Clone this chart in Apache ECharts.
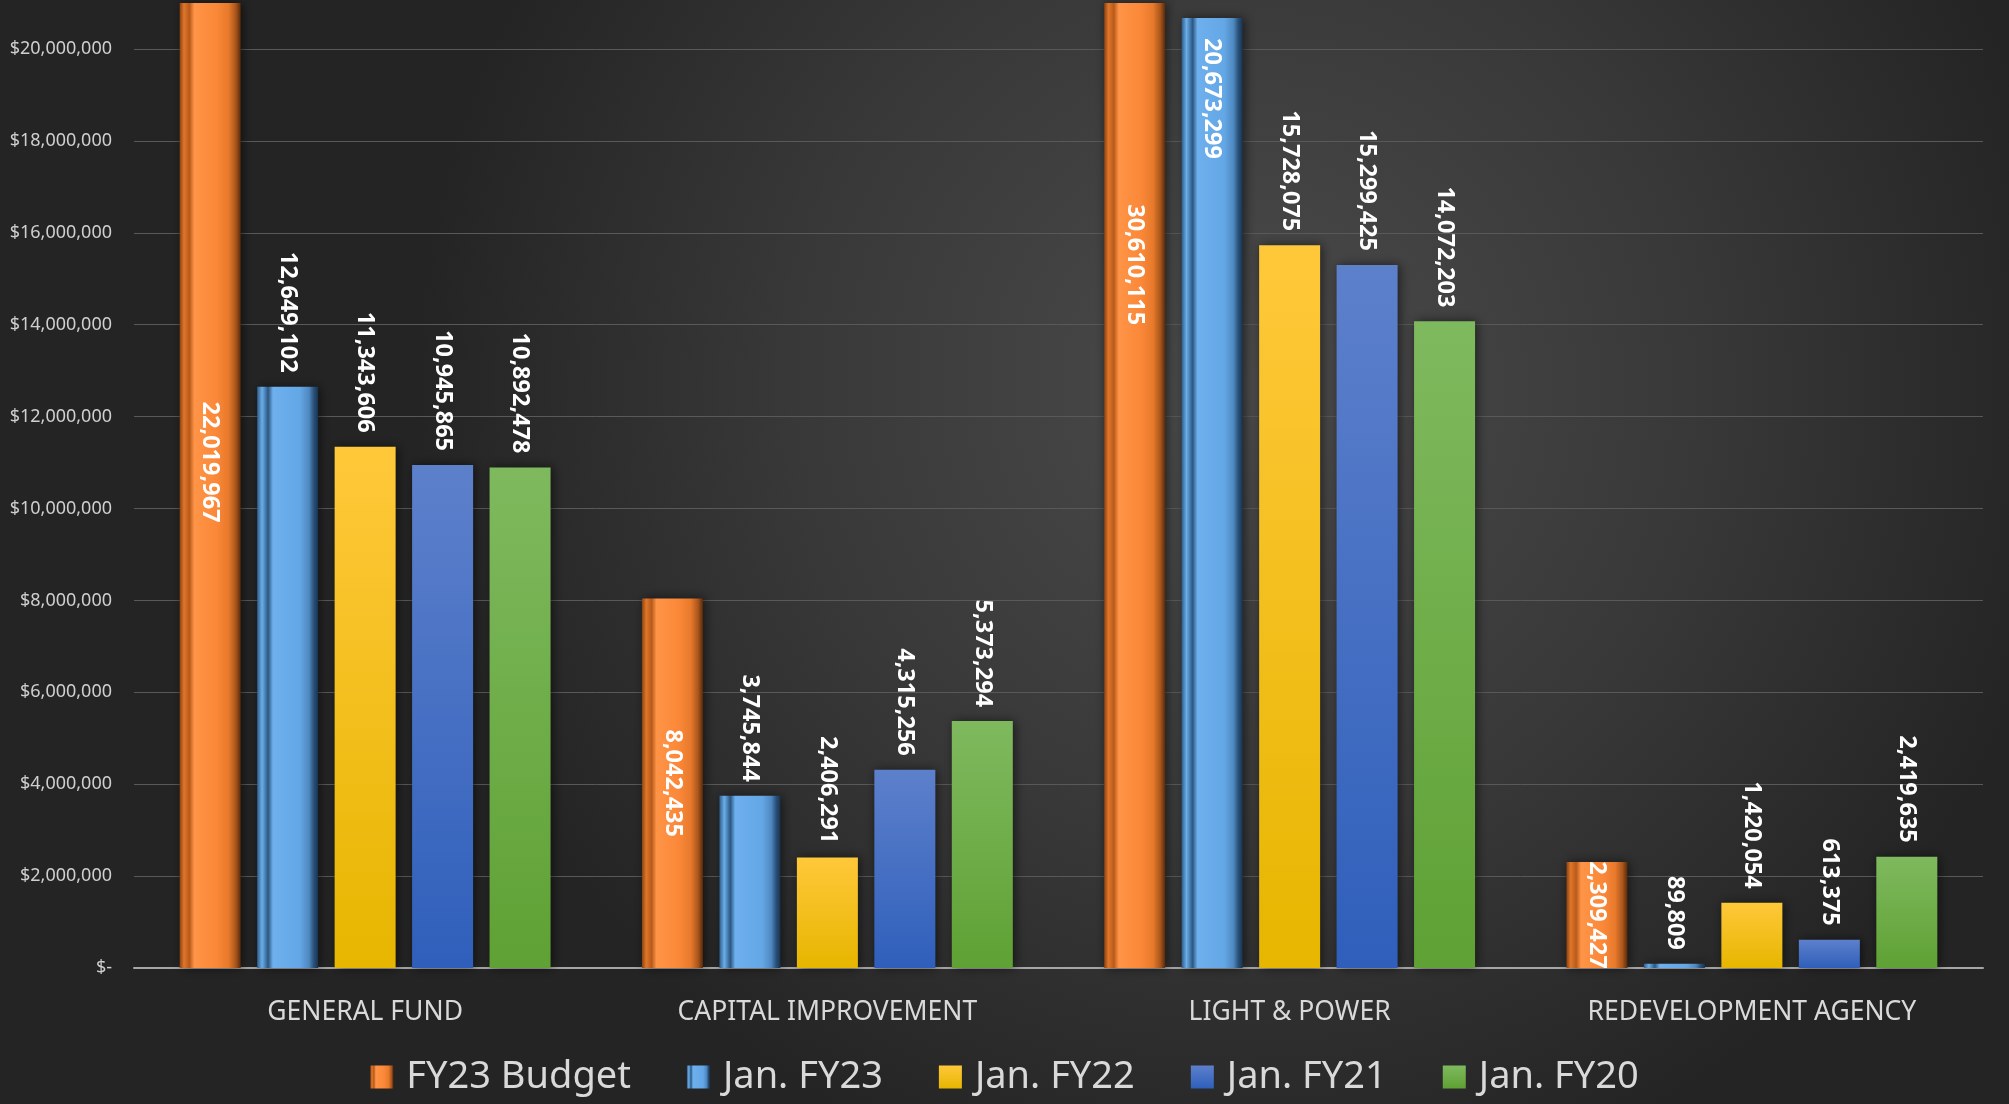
<!DOCTYPE html>
<html>
<head>
<meta charset="utf-8">
<script src="https://cdn.jsdelivr.net/npm/echarts@6/dist/echarts.min.js"></script>
<style>
html,body{margin:0;padding:0;background:#2b2b2b;}
#chart{width:2009px;height:1104px;}
</style>
</head>
<body>
<div id="chart"></div>
<script>
const categories = ['GENERAL FUND', 'CAPITAL IMPROVEMENT', 'LIGHT & POWER', 'REDEVELOPMENT AGENCY'];
const seriesNames = ['FY23 Budget', 'Jan. FY23', 'Jan. FY22', 'Jan. FY21', 'Jan. FY20'];
const fy23Budget = [22019967, 8042435, 30610115, 2309427];
const janFY23 = [12649102, 3745844, 20673299, 89809];
const janFY22 = [11343606, 2406291, 15728075, 1420054];
const janFY21 = [10945865, 4315256, 15299425, 613375];
const janFY20 = [10892478, 5373294, 14072203, 2419635];
const yTickStep = 2000000;
const yMax = 21000000;

const fmt = v => Number(v).toLocaleString('en-US');
const FONT = '"Noto Sans", sans-serif';

function hGrad(stops){
  return {type:'linear', x:0, y:0, x2:1, y2:0, colorStops: stops.map(s=>({offset:s[0], color:s[1]}))};
}
function vGrad(top, bottom){
  return {type:'linear', x:0, y:0, x2:0, y2:1, colorStops:[{offset:0,color:top},{offset:1,color:bottom}]};
}

const orangeFill = hGrad([[0,'#8a4212'],[0.07,'#e0762a'],[0.16,'#b85a1a'],[0.24,'#ff9447'],[0.6,'#fb8838'],[0.8,'#e87a2c'],[0.92,'#a9561c'],[1,'#5a2a0a']]);
const lblueFill = hGrad([[0,'#2f5c88'],[0.08,'#6aaeea'],[0.18,'#2c5780'],[0.26,'#6eb0ee'],[0.7,'#64a7e6'],[0.85,'#4f88c0'],[0.93,'#2a5078'],[1,'#173450']]);
const yellowFill = vGrad('#ffc83a', '#e6b600');
const blueFill = vGrad('#5d80cb', '#2f5fbb');
const greenFill = vGrad('#7fb95e', '#5fa134');

const labelBase = {
  show: true, rotate: -90, color: '#ffffff', fontFamily: FONT, fontWeight: 'bold', fontSize: 23.5,
  formatter: p => fmt(p.value)
};
const topLabel = Object.assign({}, labelBase, {position: 'top', align: 'right', verticalAlign: 'middle', distance: 14});
const centerLabel = Object.assign({}, labelBase, {position: 'inside', align: 'center', verticalAlign: 'middle'});
const insideTopLabel = Object.assign({}, labelBase, {position: 'insideTop', align: 'left', verticalAlign: 'middle', distance: 20});

const shadow = {shadowBlur: 10, shadowColor: 'rgba(0,0,0,0.55)', shadowOffsetX: 2, shadowOffsetY: 0};

function mkSeries(name, data, fill, label, overrides){
  return {
    name, type: 'bar', data: data.map((v,i)=>{
      const d = {value: v};
      if (overrides && overrides[i]) d.label = overrides[i];
      return d;
    }),
    barWidth: 61, barGap: '27%',
    itemStyle: Object.assign({color: fill}, shadow),
    label: label,
    emphasis: {disabled: true}
  };
}

const chart = echarts.init(document.getElementById('chart'), null, {renderer: 'canvas'});
const option = {
  animation: false,
  backgroundColor: {type:'radial', x:0.62, y:0.35, r:0.75, colorStops:[{offset:0,color:'#4b4b4b'},{offset:0.55,color:'#383838'},{offset:1,color:'#242424'}]},
  grid: {left: 134, right: 26, top: 3, bottom: 136, containLabel: false},
  legend: {
    bottom: 3, left: 'center', itemWidth: 23, itemHeight: 23, itemGap: 56, icon: 'rect',
    textStyle: {color: '#d9d9d9', fontSize: 38, fontFamily: FONT, padding: [0,0,0,8]},
    data: seriesNames
  },
  xAxis: {
    type: 'category', data: categories,
    axisLine: {lineStyle: {color: '#a6a6a6', width: 2}},
    axisTick: {show: false},
    axisLabel: {color: '#d9d9d9', fontSize: 26.5, fontFamily: FONT, margin: 31}
  },
  yAxis: {
    type: 'value', min: 0, max: yMax, interval: yTickStep,
    axisLine: {show: false}, axisTick: {show: false},
    splitLine: {show: true, showMaxLine: false, lineStyle: {color: '#595959', width: 1}},
    axisLabel: {color: '#cfcfcf', fontSize: 18, fontFamily: FONT, margin: 22, showMaxLabel: false,
      formatter: v => v === 0 ? '$-' : '$' + fmt(v)}
  },
  series: [
    mkSeries(seriesNames[0], fy23Budget, orangeFill, centerLabel),
    mkSeries(seriesNames[1], janFY23, lblueFill, topLabel, {2: insideTopLabel}),
    mkSeries(seriesNames[2], janFY22, yellowFill, topLabel),
    mkSeries(seriesNames[3], janFY21, blueFill, topLabel),
    mkSeries(seriesNames[4], janFY20, greenFill, topLabel)
  ]
};
chart.setOption(option);

// Centre labels of clipped bars on the full (unclipped) bar, as in the original.
// The label offset is applied in the label's rotated frame (local x points down the screen).
const y0 = chart.convertToPixel({yAxisIndex: 0}, 0);
option.series[0].data = fy23Budget.map(v => {
  const yHalf = chart.convertToPixel({yAxisIndex: 0}, v / 2);
  const yTopVisible = chart.convertToPixel({yAxisIndex: 0}, Math.min(v, yMax));
  const dy = yHalf - (yTopVisible + y0) / 2;
  return {value: v, label: Object.assign({}, centerLabel, {offset: [dy, 0]})};
});
chart.setOption(option);
</script>
</body>
</html>
